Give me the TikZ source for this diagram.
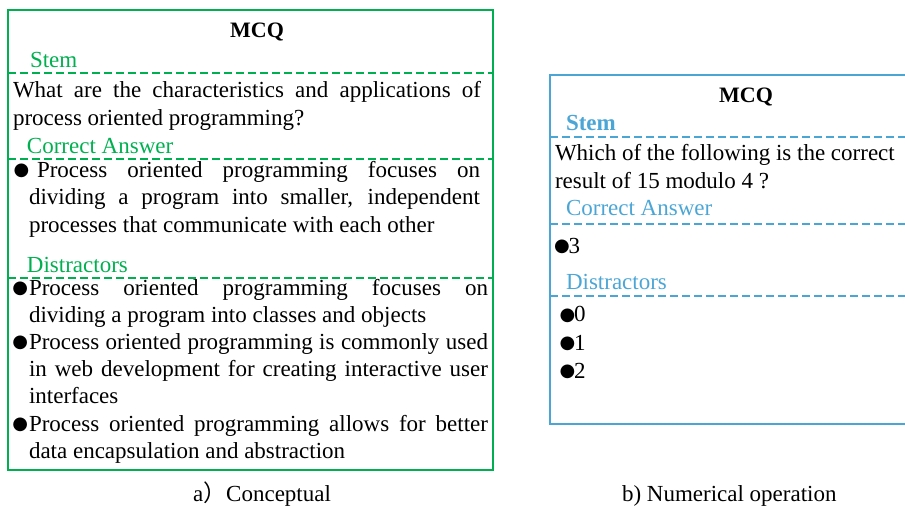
\documentclass[tikz,border=0pt]{standalone}
\usepackage{fontspec}
\setmainfont{Liberation Serif}
\newfontfamily\cjkf{Noto Sans CJK SC}
\newfontfamily\symf{DejaVu Sans}
\definecolor{mgreen}{RGB}{0,176,80}
\definecolor{mblue}{RGB}{75,166,214}
\newcommand\jl[2]{\makebox[#1pt][s]{#2}}
\newcommand\bul{\raisebox{1.5pt}{\symf\fontsize{18}{18}\selectfont ●}}
\begin{document}
\begin{tikzpicture}[x=1pt,y=-1pt,
  font=\fontsize{23}{28}\selectfont,
  txt/.style={anchor=base west, inner sep=0pt, outer sep=0pt},
  ttl/.style={anchor=base, inner sep=0pt, font=\fontsize{22}{28}\selectfont\bfseries},
  gbox/.style={draw=mgreen, line width=2pt},
  bbox/.style={draw=mblue, line width=2pt},
  gdash/.style={draw=mgreen, line width=2pt, dash pattern=on 8pt off 4pt},
  bdash/.style={draw=mblue, line width=2pt, dash pattern=on 8pt off 4pt},
  glab/.style={txt, text=mgreen},
  blab/.style={txt, text=mblue}]
\useasboundingbox (0,0) rectangle (905,507);
\clip (0,0) rectangle (905,507);
% ---------- left panel ----------
\draw[gbox] (8,10) rectangle (493,470);
\node[ttl] (mcqa) at (257,37) {MCQ};
\node[glab] (stema) at (30,67) {Stem};
\coordinate (da1l) at (8,73); \coordinate (da1r) at (493,73);
\draw[gdash] (da1l) -- (da1r);
\node[txt] (sa1) at (13,97) {\jl{468}{What are the characteristics and applications of}};
\node[txt] (sa2) at (13,125) {process oriented programming?};
\node[glab] (corra) at (27,153) {Correct Answer};
\coordinate (da2l) at (8,159); \coordinate (da2r) at (493,159);
\draw[gdash] (da2l) -- (da2r);
\node[txt] (cb1) at (13.5,177) {\bul};
\node[txt] (ca1) at (37,177) {\jl{443}{Process oriented programming focuses on}};
\node[txt] (ca2) at (29,204.5) {\jl{451}{dividing a program into smaller, independent}};
\node[txt] (ca3) at (29,232) {processes that communicate with each other};
\node[glab] (dista) at (27,272) {Distractors};
\coordinate (da3l) at (8,278); \coordinate (da3r) at (493,278);
\draw[gdash] (da3l) -- (da3r);
\node[txt] (db1) at (12.5,295) {\bul};
\node[txt] (dl1) at (29,295) {\jl{459}{Process oriented programming focuses on}};
\node[txt] (dl2) at (29,322.2) {dividing a program into classes and objects};
\node[txt] (db2) at (12.5,349.4) {\bul};
\node[txt] (dl3) at (29,349.4) {\jl{459}{Process oriented programming is commonly used}};
\node[txt] (dl4) at (29,376.6) {\jl{459}{in web development for creating interactive user}};
\node[txt] (dl5) at (29,403.8) {interfaces};
\node[txt] (db3) at (12.5,431) {\bul};
\node[txt] (dl6) at (29,431) {\jl{459}{Process oriented programming allows for better}};
\node[txt] (dl7) at (29,458.2) {data encapsulation and abstraction};
\node[txt] (capa) at (193,501) {a{\cjkf ）}Conceptual};
% ---------- right panel ----------
\draw[bbox] (550,75) rectangle (942,423.5);
\node[ttl] (mcqb) at (746,102.7) {MCQ};
\node[blab, font=\fontsize{23}{28}\selectfont\bfseries] (stemb) at (566,130) {Stem};
\coordinate (db1l) at (550,137.3); \coordinate (db1r) at (942,137.3);
\draw[bdash] (db1l) -- (db1r);
\node[txt] (sb1) at (555,160) {Which of the following is the correct};
\node[txt] (sb2) at (555,188.3) {result of 15 modulo 4 ?};
\node[blab] (corrb) at (566,215) {Correct Answer};
\coordinate (db2l) at (550,224); \coordinate (db2r) at (942,224);
\draw[bdash] (db2l) -- (db2r);
\node[txt] (cbb) at (554,253) {\bul\kern-1pt 3};
\node[blab] (distb) at (566,289.3) {Distractors};
\coordinate (db3l) at (550,296); \coordinate (db3r) at (942,296);
\draw[bdash] (db3l) -- (db3r);
\node[txt] (o0) at (559.5,321.7) {\bul\kern-1pt 0};
\node[txt] (o1) at (559.5,350) {\bul\kern-1pt 1};
\node[txt] (o2) at (559.5,378.3) {\bul\kern-1pt 2};
\node[txt] (capb) at (622,501) {b) Numerical operation};
\end{tikzpicture}
\end{document}
